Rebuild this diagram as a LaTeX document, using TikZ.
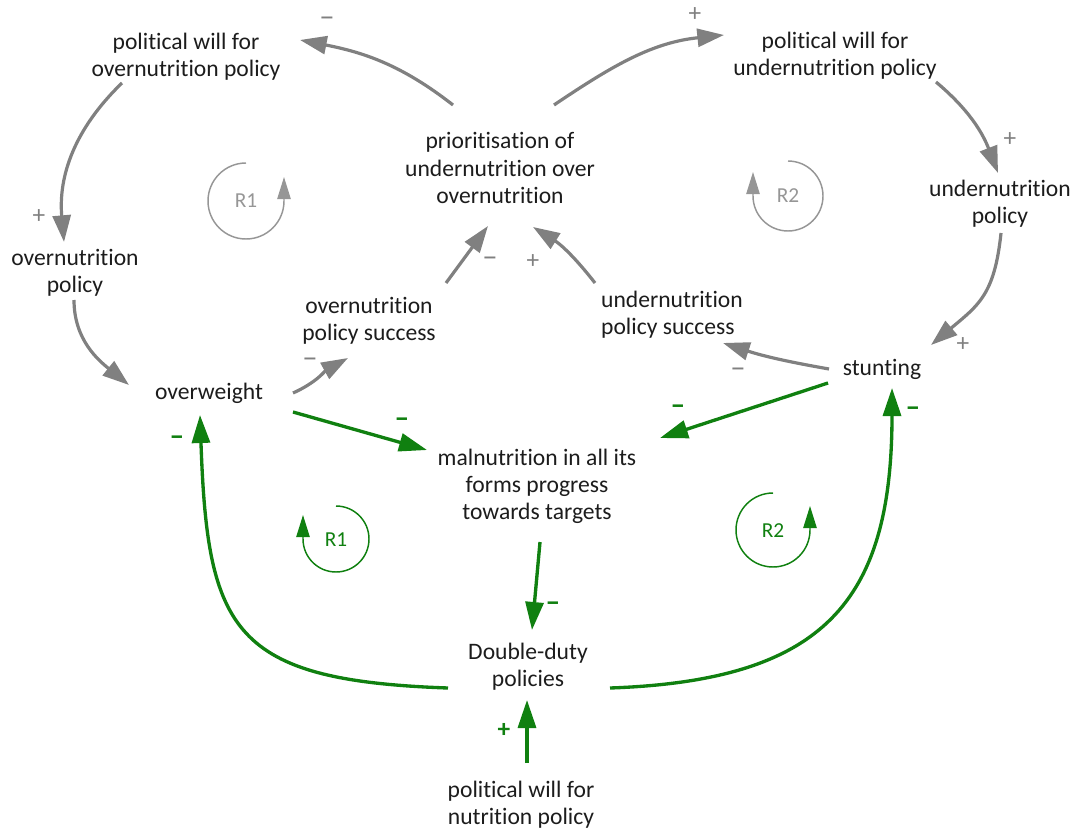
\documentclass[tikz,border=0pt]{standalone}
\usepackage{fontspec}
\setmainfont{Carlito}[Ligatures=NoCommon]
\usetikzlibrary{arrows.meta}
\definecolor{ggray}{RGB}{128,128,128}
\definecolor{lgray}{RGB}{150,150,150}
\definecolor{dgreen}{RGB}{16,128,16}
\definecolor{txt}{RGB}{28,28,28}
\begin{document}
\begin{tikzpicture}[x=0.75pt,y=0.75pt,
  lbl/.style={font=\fontsize{17.7}{20.3}\selectfont, text=txt, align=center, inner sep=0pt},
  garr/.style={draw=ggray, line width=2.4pt, -{Triangle[length=20pt,width=13.5pt]}},
  carr/.style={draw=dgreen, line width=2.5pt, -{Triangle[length=21pt,width=13.5pt]}},
  gsign/.style={font=\fontsize{19}{20}\selectfont, text=ggray, inner sep=0pt},
  gminus/.style={font=\fontsize{23}{24}\selectfont, text=ggray, inner sep=0pt},
  csign/.style={font=\fontsize{19}{20}\selectfont\bfseries, text=dgreen, inner sep=0pt},
  cminus/.style={font=\fontsize{22}{24}\selectfont\bfseries, text=dgreen, inner sep=0pt},
  gloop/.style={draw=lgray, line width=1.1pt, -{Triangle[length=16.5pt,width=10pt]}},
  cloop/.style={draw=dgreen, line width=1.1pt, -{Triangle[length=16.5pt,width=10pt]}},
  gltxt/.style={font=\fontsize{16}{18}\selectfont, text=lgray, inner sep=0pt},
  cltxt/.style={font=\fontsize{16}{18}\selectfont, text=dgreen, inner sep=0pt}
]
\useasboundingbox (0,0) rectangle (1080,-831);

% nodes
\node[lbl] (pwo) at (186,-57) {political will for\\overnutrition policy};
\node[lbl] (pwu) at (835,-56) {political will for\\undernutrition policy};
\node[lbl] (prio) at (500,-168) {prioritisation of\\undernutrition over\\overnutrition};
\node[lbl] (onp) at (75,-273) {overnutrition\\policy};
\node[lbl] (unp) at (1000,-204) {undernutrition\\policy};
\node[lbl] (ops) at (369,-321) {overnutrition\\policy success};
\node[lbl,align=left] (ups) at (672,-315) {undernutrition\\policy success};
\node[lbl] (ow) at (209,-393) {overweight};
\node[lbl] (st) at (882,-369) {stunting};
\node[lbl] (mal) at (537,-486) {malnutrition in all its\\forms progress\\towards targets};
\node[lbl] (dd) at (528,-667) {Double-duty\\policies};
\node[lbl] (pwn) at (521,-805) {political will for\\nutrition policy};

% gray links
\draw[garr] ([shift={(-47,63)}]prio.center) to[out=142,in=-11] ([shift={(114,17)}]pwo.center);
\draw[garr] ([shift={(-64,-26)}]pwo.center) to[out=224,in=95] ([shift={(-11,31)}]onp.center);
\draw[garr] ([shift={(-1,-27)}]onp.center) to[out=270,in=141] ([shift={(-80,8)}]ow.center);
\draw[garr] ([shift={(84,0)}]ow.center) to[out=24,in=-151] ([shift={(-21,-37)}]ops.center);
\draw[garr] ([shift={(77,38)}]ops.center) -- ([shift={(-12,-58)}]prio.center);
\draw[garr] ([shift={(-77,32)}]ups.center) to[bend right=10] ([shift={(33,-59)}]prio.center);
\draw[garr] ([shift={(54,63)}]prio.center) to[out=34,in=-174] ([shift={(-111,21)}]pwu.center);
\draw[garr] ([shift={(101,-26)}]pwu.center) to[out=-40,in=111] ([shift={(-2,31)}]unp.center);
\draw[garr] ([shift={(1,-29)}]unp.center) to[out=-96,in=40,looseness=1.2] ([shift={(49,24)}]st.center);
\draw[garr] ([shift={(-53,0)}]st.center) to[out=170,in=-18] ([shift={(51,-28)}]ups.center);

% green links
\draw[carr] ([shift={(84,-19)}]ow.center) -- ([shift={(-110,36)}]mal.center);
\draw[carr] ([shift={(-54,-14)}]st.center) -- ([shift={(123,48)}]mal.center);
\draw[carr] ([shift={(3,-56)}]mal.center) -- ([shift={(4,37)}]dd.center);
\draw[carr] ([shift={(-80,-21)}]dd.center) to[out=178,in=-88,looseness=1.5] ([shift={(-9,-22)}]ow.center);
\draw[carr] ([shift={(82,-21)}]dd.center) to[out=2,in=-90,looseness=1.33] ([shift={(10,-19)}]st.center);
\draw[carr] ([shift={(6,42)}]pwn.center) -- ([shift={(-1,-33)}]dd.center);

% gray polarity signs
\node[gminus] (s1) at (327,-22) {–};
\node[gsign] (s2) at (39,-217) {+};
\node[gminus] (s3) at (310,-363) {–};
\node[gminus] (s4) at (490,-262) {–};
\node[gsign] (s5) at (533,-262) {+};
\node[gsign] (s6) at (695,-15) {+};
\node[gsign] (s7) at (1010,-140) {+};
\node[gsign] (s8) at (963,-345) {+};
\node[gminus] (s9) at (738,-373) {–};

% green polarity signs
\node[cminus] (c1) at (402,-423) {–};
\node[cminus] (c2) at (678,-410) {–};
\node[cminus] (c3) at (553,-607) {–};
\node[cminus] (c4) at (177,-441) {–};
\node[cminus] (c5) at (913,-412) {–};
\node[csign] (c6) at (504,-730) {+};

% loop markers
\node[gltxt] (r1g) at (246,-201) {R1};
\draw[gloop] (r1g.center) ++(0,38) arc[start angle=90,end angle=360,radius=38] -- ++(0,24);
\node[gltxt] (r2g) at (788,-196) {R2};
\draw[gloop] (r2g.center) ++(0,35) arc[start angle=90,end angle=-180,radius=35] -- ++(0,24);
\node[cltxt] (r1c) at (336,-540) {R1};
\draw[cloop] (r1c.center) ++(0,34) arc[start angle=90,end angle=-180,radius=33] -- ++(0,24);
\node[cltxt] (r2c) at (773,-531) {R2};
\draw[cloop] (r2c.center) ++(0,38) arc[start angle=90,end angle=360,radius=37] -- ++(0,24);
\end{tikzpicture}
\end{document}
